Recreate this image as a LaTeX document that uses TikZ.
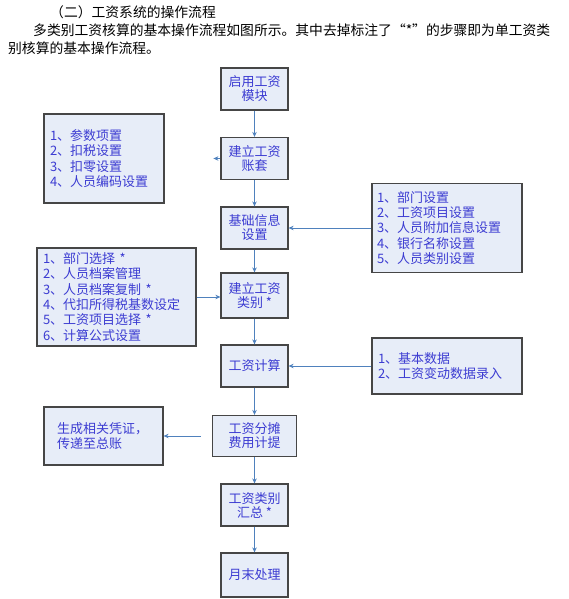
\documentclass[tikz,border=0pt]{standalone}
\usepackage{fontspec}
\setmainfont{Noto Sans CJK SC}
\usetikzlibrary{arrows.meta,positioning}

\definecolor{boxfill}{RGB}{231,237,248}
\definecolor{boxline}{RGB}{70,70,70}
\definecolor{boxtext}{RGB}{60,60,210}
\definecolor{arrowblue}{RGB}{79,129,189}

\tikzset{
    mainbox/.style={draw=boxline,fill=boxfill,line width=1.2pt,text=boxtext,
        minimum width=67pt,minimum height=42pt,align=center,inner sep=2pt,
        font=\fontsize{13}{14}\selectfont},
    listbox/.style={draw=boxline,fill=boxfill,line width=1.2pt,text=boxtext,
        align=left,inner ysep=0pt,font=\fontsize{13}{15.3}\selectfont},
    flow/.style={draw=arrowblue,line width=0.8pt,-{Stealth[length=5pt,width=4.5pt]}},
    headline/.style={anchor=west,inner sep=0pt,font=\fontsize{13.8}{15}\selectfont}
}

\begin{document}
\begin{tikzpicture}[x=1pt,y=1pt]

    \useasboundingbox (0,0) rectangle (568,599);

    % text above the chart
    \node[headline] (title) at (50,587) {（二）工资系统的操作流程};
    \node[headline] (para1) at (33,569) {多类别工资核算的基本操作流程如图所示。其中去掉标注了“*”的步骤即为单工资类};
    \node[headline] (para2) at (8,551) {别核算的基本操作流程。};

    % main column
    \node[mainbox] (qiyong) at (254.5,510) {启用工资\\模块};
    \node[mainbox] (zhangtao) at (254.5,440.5) {建立工资\\账套};
    \node[mainbox] (jichu) at (254.5,371) {基础信息\\设置};
    \node[mainbox,minimum height=45pt] (leibie) at (254.5,303.5) {建立工资\\类别 *};
    \node[mainbox] (jisuan) at (254.5,233) {工资计算};
    \node[mainbox,minimum width=84pt,minimum height=41pt] (fentan) at (254.5,163) {工资分摊\\费用计提};
    \node[mainbox] (huizong) at (254.5,94) {工资类别\\汇总 *};
    \node[mainbox,minimum height=44pt] (yuemo) at (254.5,24) {月末处理};

    % side lists
    \node[listbox,inner xsep=6pt,text width=108pt,minimum height=89pt] (canshu) at (104,440.5)
        {1、参数项置\\2、扣税设置\\3、扣零设置\\4、人员编码设置};
    \node[listbox,inner xsep=5pt,text width=140pt,minimum height=89pt] (bumen) at (447,371)
        {1、部门设置\\2、工资项目设置\\3、人员附加信息设置\\4、银行名称设置\\5、人员类别设置};
    \node[listbox,inner xsep=6pt,text width=147pt,minimum height=98pt] (dangan) at (116.5,302)
        {1、部门选择 *\\2、人员档案管理\\3、人员档案复制 *\\4、代扣所得税基数设定\\5、工资项目选择 *\\6、计算公式设置};
    \node[listbox,inner xsep=6pt,text width=138pt,minimum height=56pt] (shuju) at (447,233)
        {1、基本数据\\2、工资变动数据录入};
    \node[listbox,inner xsep=13pt,text width=93pt,minimum height=58pt] (pingzheng) at (103.5,163)
        {生成相关凭证，\\传递至总账};

    % connectors
    \draw[flow] (qiyong.south) -- (zhangtao.north);
    \draw[flow] (zhangtao.south) -- (jichu.north);
    \draw[flow] (jichu.south) -- (leibie.north);
    \draw[flow] (leibie.south) -- (jisuan.north);
    \draw[flow] (jisuan.south) -- (fentan.north);
    \draw[flow] (fentan.south) -- (huizong.north);
    \draw[flow] (huizong.south) -- (yuemo.north);

    \coordinate (ztout) at ([xshift=-7pt]zhangtao.west);
    \draw[flow] (zhangtao.west) -- (ztout);
    \draw[flow] (bumen.west) -- (jichu.east);
    \draw[flow] (dangan.east) -- (dangan.east -| leibie.west);
    \draw[flow] (shuju.west) -- (jisuan.east);
    \draw[flow,shorten <=11pt] (fentan.west) -- (pingzheng.east);

\end{tikzpicture}
\end{document}
